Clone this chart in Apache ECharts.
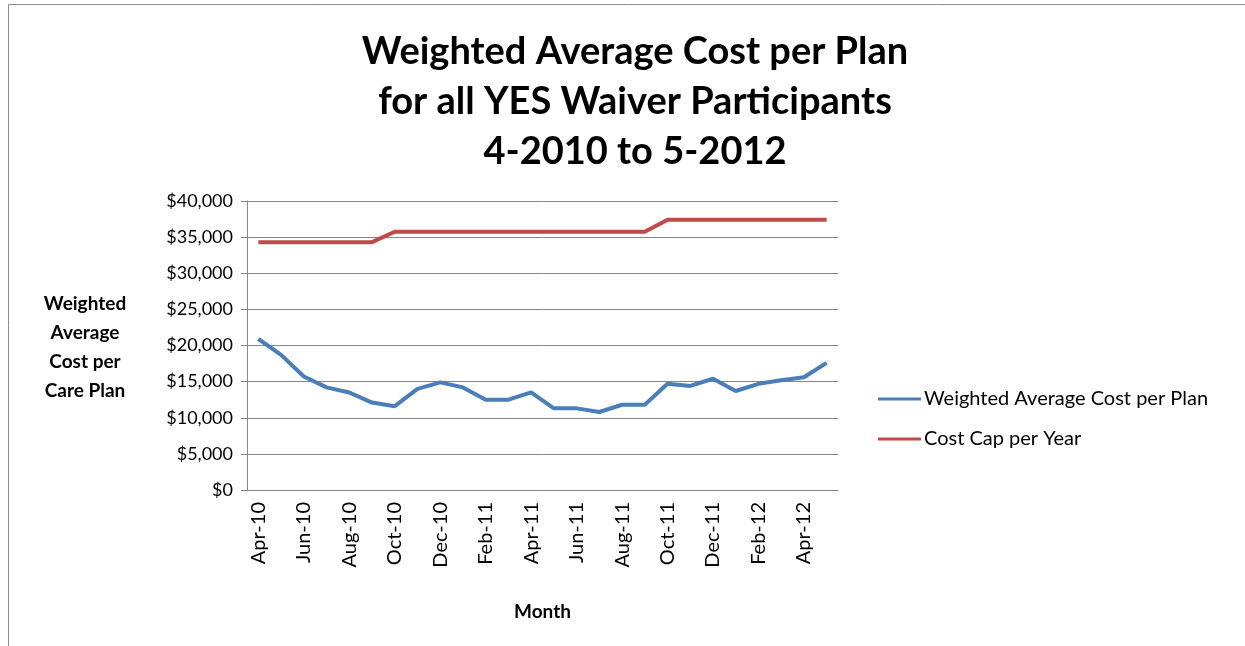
<!DOCTYPE html>
<html>
<head>
<meta charset="utf-8">
<script src="https://cdn.jsdelivr.net/npm/echarts@6/dist/echarts.min.js"></script>
<style>
  html, body { margin: 0; padding: 0; background: #fff; }
  #chart { width: 1245px; height: 646px; }
</style>
</head>
<body>
<div id="chart"></div>
<script>
const months = ['Apr-10', 'May-10', 'Jun-10', 'Jul-10', 'Aug-10', 'Sep-10', 'Oct-10', 'Nov-10', 'Dec-10',
  'Jan-11', 'Feb-11', 'Mar-11', 'Apr-11', 'May-11', 'Jun-11', 'Jul-11', 'Aug-11', 'Sep-11', 'Oct-11',
  'Nov-11', 'Dec-11', 'Jan-12', 'Feb-12', 'Mar-12', 'Apr-12', 'May-12']
const avgCost = [20900, 18700, 15700, 14200, 13500, 12100, 11600, 14000, 14900, 14200, 12500, 12500, 13500,
  11300, 11300, 10800, 11800, 11800, 14700, 14400, 15400, 13700, 14700, 15200, 15600, 17600]
const costCap = [34300, 34300, 34300, 34300, 34300, 34300, 35750, 35750, 35750, 35750, 35750, 35750, 35750,
  35750, 35750, 35750, 35750, 35750, 37400, 37400, 37400, 37400, 37400, 37400, 37400, 37400]

const font = 'Lato, "Open Sans", sans-serif'
const chart = echarts.init(document.getElementById('chart'))

chart.setOption({
  backgroundColor: '#fff',
  animation: false,
  textStyle: { fontFamily: font },
  title: {
    text: 'Weighted Average Cost per Plan\nfor all YES Waiver Participants\n4-2010 to 5-2012',
    left: 630,
    textAlign: 'center',
    top: 22,
    textStyle: { fontSize: 38, fontWeight: 'bold', color: '#000', lineHeight: 50, fontFamily: font }
  },
  graphic: [
    {
      type: 'rect',
      shape: { x: 8.5, y: 4.5, width: 1250, height: 660 },
      style: { fill: 'none', stroke: '#8c8c8c', lineWidth: 1 }
    },
    {
      type: 'text',
      x: 85,
      y: 289,
      style: {
        text: 'Weighted\nAverage\nCost per\nCare Plan',
        align: 'center',
        font: 'bold 19px ' + font,
        lineHeight: 29,
        fill: '#000'
      }
    }
  ],
  legend: {
    orient: 'vertical',
    left: 873,
    top: 384,
    icon: 'rect',
    itemWidth: 43,
    itemHeight: 3,
    itemGap: 20,
    textStyle: { fontSize: 20, color: '#000', fontFamily: font, padding: [0, 0, 0, -2] },
    data: ['Weighted Average Cost per Plan', 'Cost Cap per Year']
  },
  grid: { left: 247, right: 407, top: 201, bottom: 156 },
  xAxis: {
    type: 'category',
    data: months,
    boundaryGap: true,
    name: 'Month',
    nameLocation: 'middle',
    nameGap: 112,
    nameTextStyle: { fontSize: 19, fontWeight: 'bold', color: '#000' },
    axisLine: { lineStyle: { color: '#868686' } },
    axisTick: { interval: 1, length: 6, lineStyle: { color: '#868686' } },
    axisLabel: { interval: 1, rotate: 90, fontSize: 20, color: '#000', margin: 12 }
  },
  yAxis: {
    type: 'value',
    min: 0,
    max: 40000,
    interval: 5000,
    axisLine: { show: true, lineStyle: { color: '#868686' } },
    axisTick: { show: true, length: 6, lineStyle: { color: '#868686' } },
    axisLabel: {
      fontSize: 18,
      color: '#000',
      margin: 14,
      formatter: v => '$' + v.toLocaleString('en-US')
    },
    splitLine: { lineStyle: { color: '#868686', width: 1 } }
  },
  series: [
    {
      name: 'Weighted Average Cost per Plan',
      type: 'line',
      data: avgCost,
      symbol: 'none',
      lineStyle: { color: '#4a7ebb', width: 4 },
      itemStyle: { color: '#4a7ebb' }
    },
    {
      name: 'Cost Cap per Year',
      type: 'line',
      data: costCap,
      symbol: 'none',
      lineStyle: { color: '#be4b48', width: 4 },
      itemStyle: { color: '#be4b48' }
    }
  ]
})
</script>
</body>
</html>
